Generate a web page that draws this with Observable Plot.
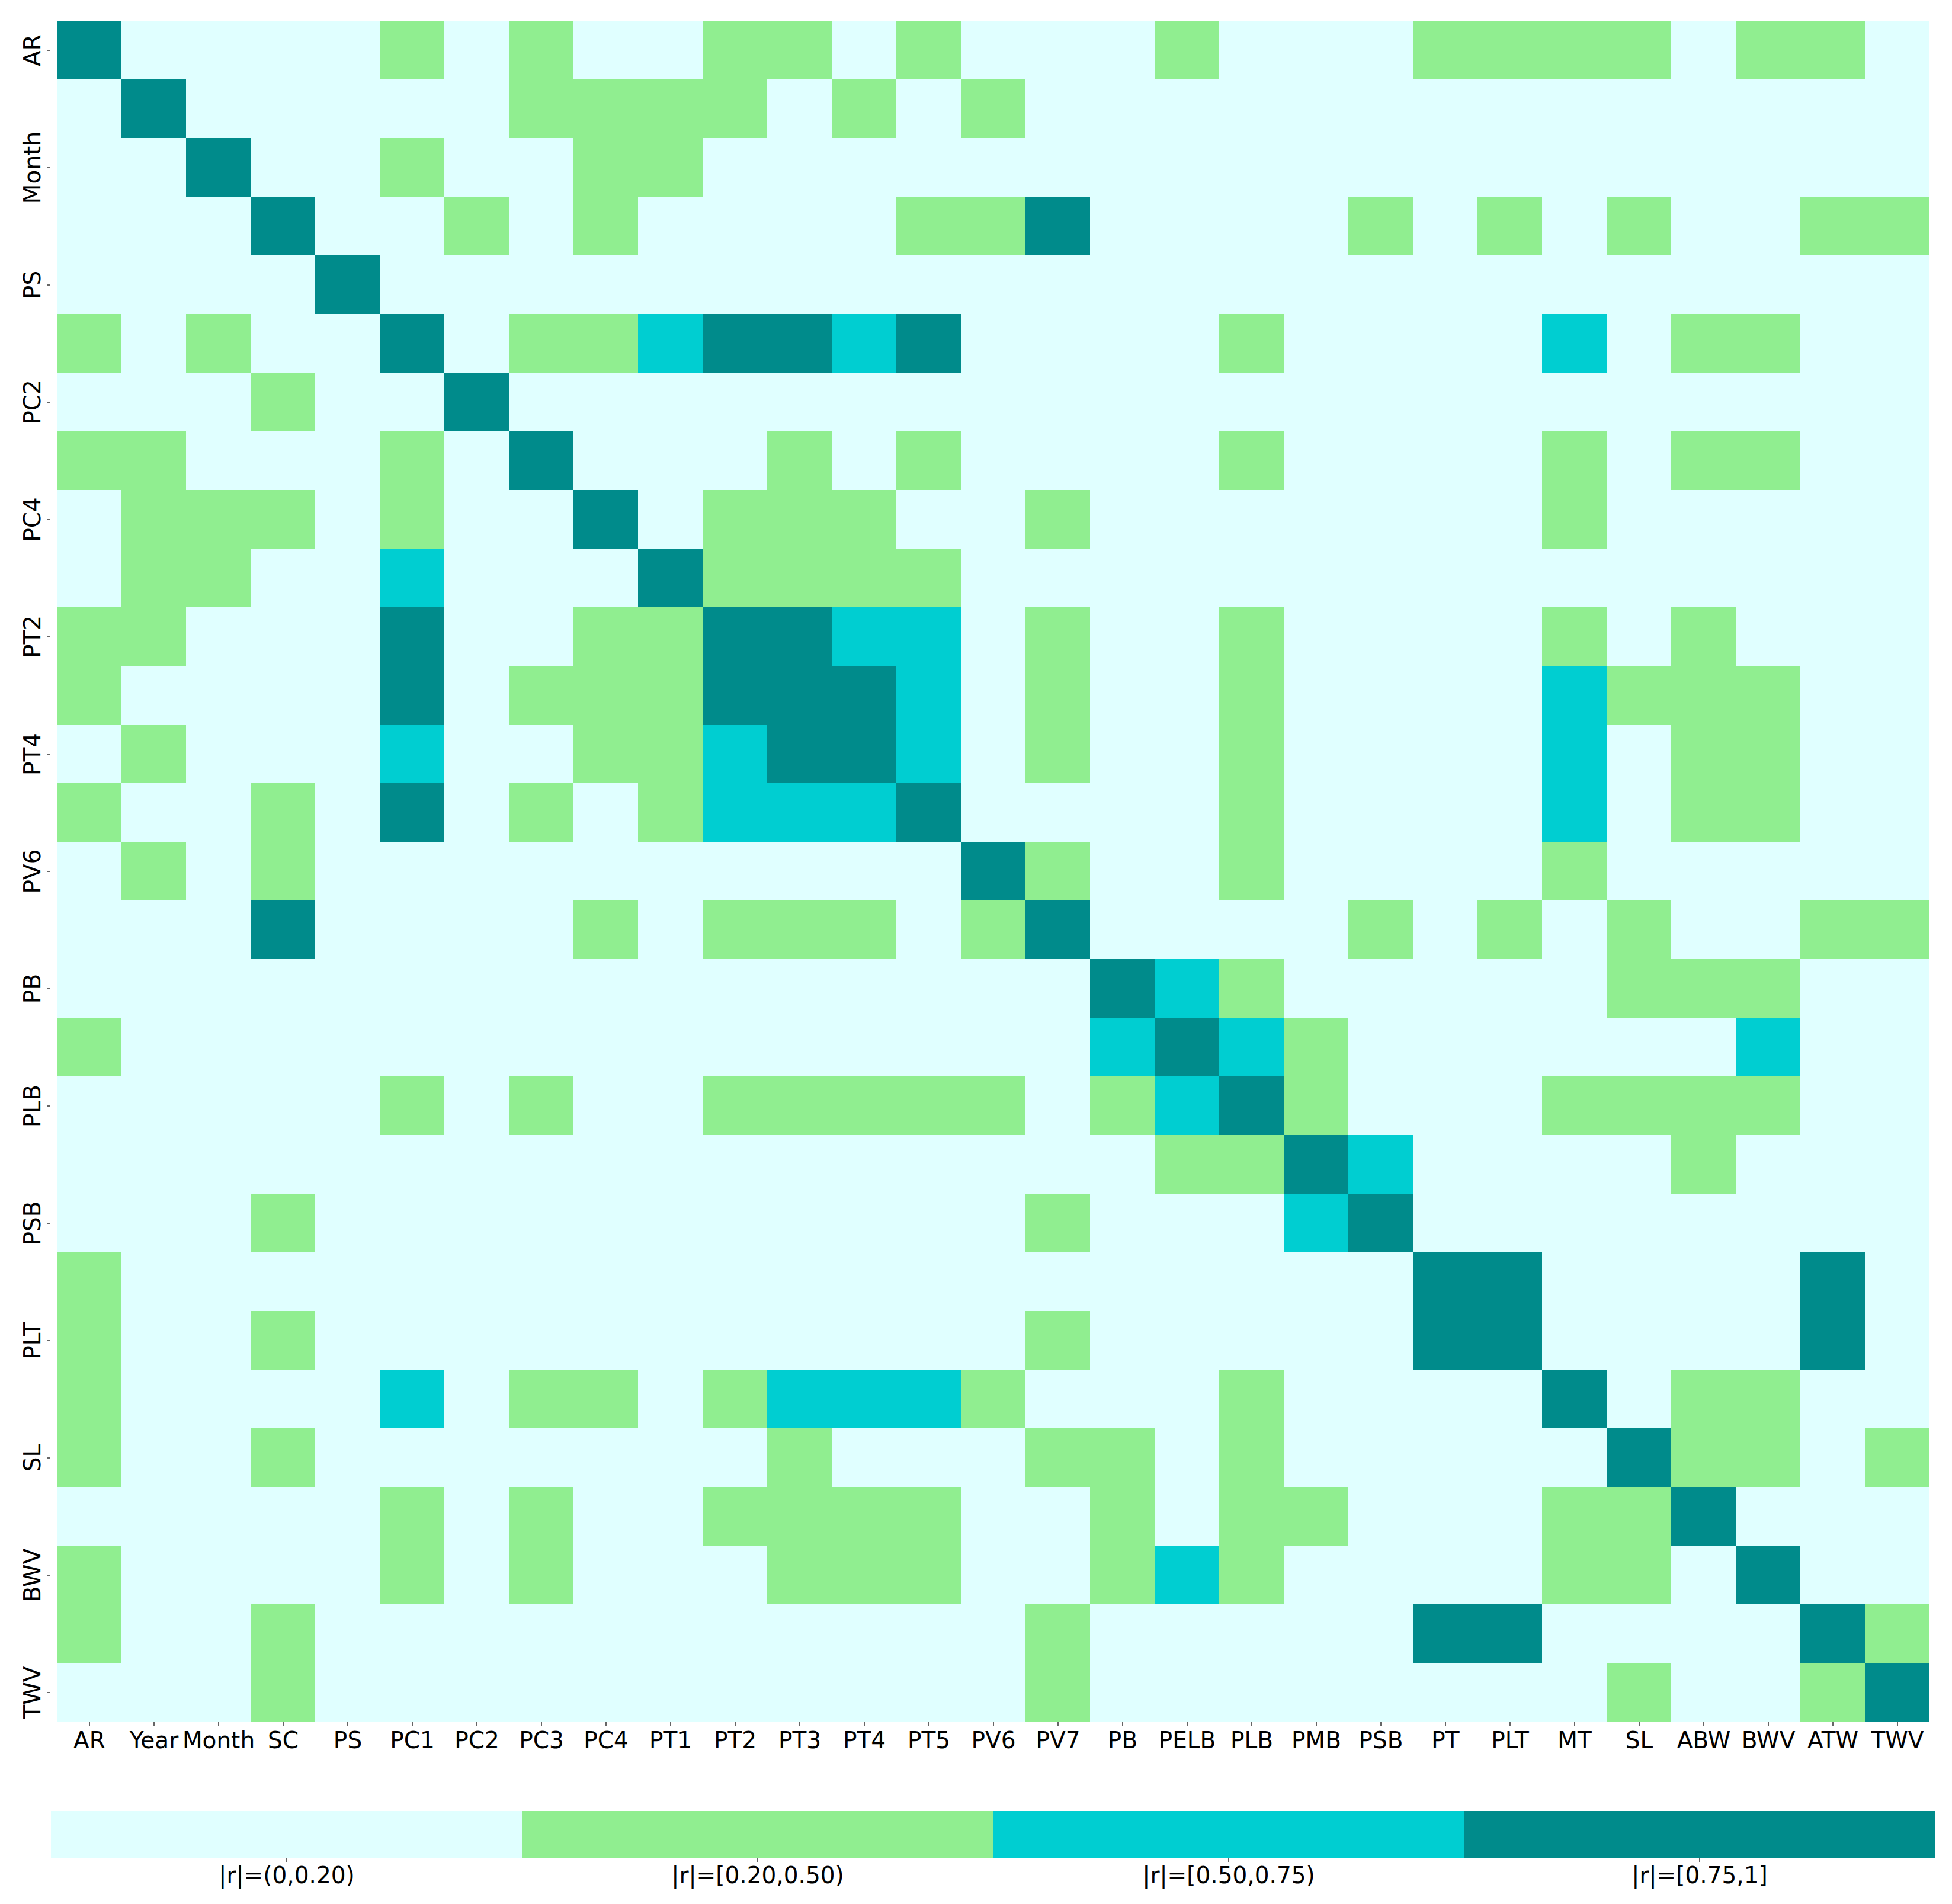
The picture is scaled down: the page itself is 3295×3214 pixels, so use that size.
<!DOCTYPE html>
<html>
<head>
<meta charset="utf-8">
<script src="https://cdn.jsdelivr.net/npm/d3@7"></script>
<script src="https://cdn.jsdelivr.net/npm/@observablehq/plot@0.6"></script>
<style>
  body { margin: 0; background: #fff; }
  #chart svg { display: block; }
</style>
</head>
<body>
<div id="chart"></div>
<script>
// Variable names (rows and columns of the correlation matrix)
const variables = ["AR","Year","Month","SC","PS","PC1","PC2","PC3","PC4","PT1","PT2","PT3","PT4","PT5","PV6","PV7","PB","PELB","PLB","PMB","PSB","PT","PLT","MT","SL","ABW","BWV","ATW","TWV"];

// |r| class per cell: 0 = (0,0.20), 1 = [0.20,0.50), 2 = [0.50,0.75), 3 = [0.75,1]
const levelRows = [
  "30000101001101000100011110110", // AR
  "03000001111010100000000000000", // Year
  "00300100110000000000000000000", // Month
  "00030010100001130000101010011", // SC
  "00003000000000000000000000000", // PS
  "10100301123323000010000201100", // PC1
  "00010030000000000000000000000", // PC2
  "11000103000101000010000101100", // PC3
  "01110100301110010000000100000", // PC4
  "01100200031111000000000000000", // PT1
  "11000300113322010010000101000", // PT2
  "10000301113332010010000211100", // PT3
  "01000200112332010010000201100", // PT4
  "10010301012223000010000201100", // PT5
  "01010000000000310010000100000", // PV6
  "00030000101110130000101010011", // PV7
  "00000000000000003210000011100", // PB
  "10000000000000002321000000200", // PELB
  "00000101001111101231000111100", // PLB
  "00000000000000000113200001000", // PMB
  "00010000000000010002300000000", // PSB
  "10000000000000000000033000030", // PT
  "10010000000000010000033000030", // PLT
  "10000201101222100010000301100", // MT
  "10010000000100011010000031101", // SL
  "00000101001111001011000113000", // ABW
  "10000101000111001210000110300", // BWV
  "10010000000000010000033000031", // ATW
  "00010000000000010000000010013"  // TWV
];

// Colour-bar class labels
const levelNames = ["|r|=(0,0.20)", "|r|=[0.20,0.50)", "|r|=[0.50,0.75)", "|r|=[0.75,1]"];
const levelColors = ["#e0ffff", "#90ee90", "#00ced1", "#008b8b"];

const cells = variables.flatMap((row, i) =>
  variables.map((col, j) => ({row, col, level: +levelRows[i][j]}))
);
const legendCells = levelNames.map((name, i) => ({name, level: i}));

const font = {fontFamily: "'DejaVu Sans', sans-serif", fontSize: "39px", color: "#000", background: "#fff"};

const heat = Plot.plot({
  width: 3295,
  height: 2980,
  marginLeft: 85,
  marginRight: 28,
  marginTop: 34,
  marginBottom: 74,
  style: font,
  x: {domain: variables, padding: 0, axis: null},
  y: {domain: variables, padding: 0, axis: null},
  color: {type: "ordinal", domain: [0, 1, 2, 3], range: levelColors},
  marks: [
    Plot.cell(cells, {x: "col", y: "row", fill: "level", inset: 0, shapeRendering: "crispEdges"}),
    Plot.axisX({anchor: "bottom", tickSize: 7, tickPadding: 10, label: null, stroke: "#333", strokeWidth: 1.5}),
    Plot.axisY({anchor: "left", ticks: variables.filter((d, i) => i % 2 === 0), tickRotate: -90, tickSize: 6, tickPadding: 12, label: null, stroke: "#333", strokeWidth: 1.5})
  ]
});

const legend = Plot.plot({
  width: 3295,
  height: 234,
  marginLeft: 85,
  marginRight: 28,
  marginTop: 77,
  marginBottom: 77,
  style: font,
  x: {domain: levelNames, padding: 0, axis: null},
  color: {type: "ordinal", domain: [0, 1, 2, 3], range: levelColors},
  marks: [
    Plot.cell(legendCells, {x: "name", fill: "level", inset: 0, shapeRendering: "crispEdges"}),
    Plot.axisX({anchor: "bottom", tickSize: 6, tickPadding: 8, label: null, stroke: "#333", strokeWidth: 1.5})
  ]
});

const chart = document.getElementById("chart");
chart.appendChild(heat);
chart.appendChild(legend);
</script>
</body>
</html>
